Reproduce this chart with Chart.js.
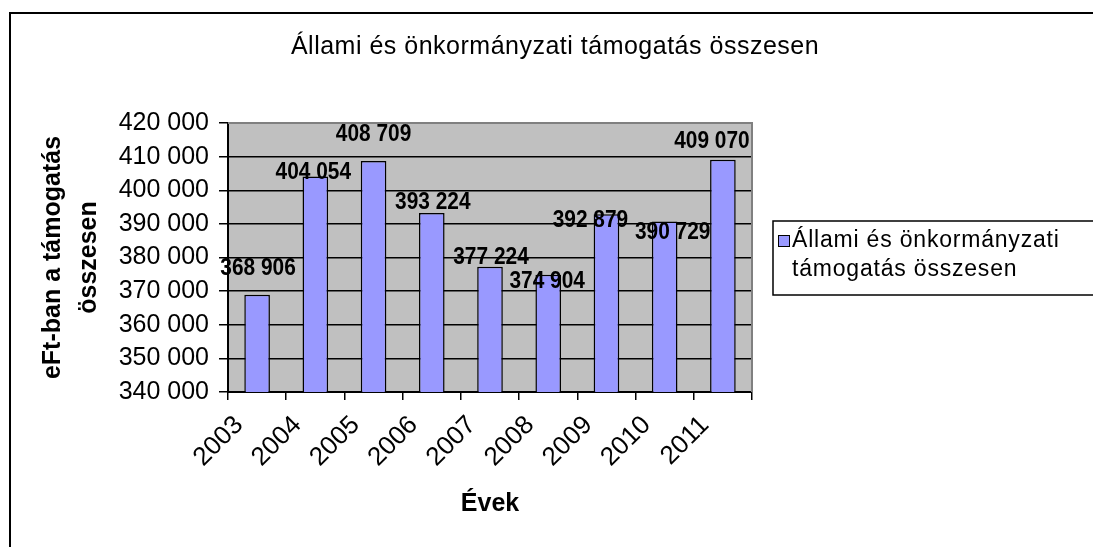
<!DOCTYPE html>
<html>
<head>
<meta charset="utf-8">
<script src="https://cdn.jsdelivr.net/npm/chart.js@4.4.0/dist/chart.umd.min.js"></script>
<style>
  html, body { margin: 0; padding: 0; background: #ffffff; }
  #wrap { width: 1093px; height: 547px; position: relative; }
</style>
</head>
<body>
<div id="wrap"><canvas id="c" width="1093" height="547"></canvas></div>
<script>
// ---- data ----
const chartTitle = 'Állami és önkormányzati támogatás összesen';
const seriesName = 'Állami és önkormányzati támogatás összesen';
const legendLines = ['Állami és önkormányzati', 'támogatás összesen'];
const yAxisTitle = ['eFt-ban a támogatás', 'összesen'];
const xAxisTitle = 'Évek';
const years = ['2003', '2004', '2005', '2006', '2007', '2008', '2009', '2010', '2011'];
const totals = [368906, 404054, 408709, 393224, 377224, 374904, 392879, 390729, 409070];
const yTicks = [340000, 350000, 360000, 370000, 380000, 390000, 400000, 410000, 420000];

// label placement nudges (pixels, relative to top-centre of each bar)
const labelNudgeX = [1, -2, 0, 1, 1, -1, -16, 8, -11];
const labelNudgeY = [-27, -5, -28, -12, -10, 6, 5, 10, -19];

const FONT = "'Liberation Sans', Arial, sans-serif";
const fmt = v => String(Math.round(v)).replace(/\B(?=(\d{3})+(?!\d))/g, ' ');

const decor = {
  id: 'decor',
  beforeDraw(chart) {
    const ctx = chart.ctx, a = chart.chartArea;
    ctx.save();
    ctx.fillStyle = '#ffffff';
    ctx.fillRect(0, 0, chart.width, chart.height);
    ctx.strokeStyle = '#000000';
    ctx.lineWidth = 2;
    ctx.strokeRect(10, 13, 1200, 700);
    ctx.fillStyle = '#C0C0C0';
    ctx.fillRect(a.left, a.top, a.right - a.left, a.bottom - a.top);
    ctx.restore();
  },
  afterDraw(chart) {
    const ctx = chart.ctx, a = chart.chartArea;
    ctx.save();
    ctx.strokeStyle = '#808080';
    ctx.lineWidth = 2;
    ctx.beginPath();
    ctx.moveTo(a.left, a.top);
    ctx.lineTo(a.right, a.top);
    ctx.lineTo(a.right, a.bottom);
    ctx.stroke();
    // title
    ctx.fillStyle = '#000000';
    ctx.font = '25px ' + FONT;
    ctx.letterSpacing = '0.5px';
    ctx.textAlign = 'center';
    ctx.textBaseline = 'alphabetic';
    ctx.fillText(chartTitle, 555, 54);
    // data labels (bold, slightly condensed)
    ctx.letterSpacing = '0px';
    ctx.font = 'bold 24px ' + FONT;
    ctx.textBaseline = 'middle';
    const meta = chart.getDatasetMeta(0);
    meta.data.forEach((el, i) => {
      ctx.save();
      ctx.translate(el.x + labelNudgeX[i], el.y + labelNudgeY[i]);
      ctx.scale(0.87, 1);
      ctx.fillText(fmt(totals[i]), 0, 1);
      ctx.restore();
    });
    // legend
    ctx.fillStyle = '#ffffff';
    ctx.fillRect(773, 221, 400, 74);
    ctx.strokeStyle = '#000000';
    ctx.lineWidth = 1.5;
    ctx.strokeRect(773, 221, 400, 74);
    ctx.fillStyle = '#9999FF';
    ctx.fillRect(778, 235, 11, 11);
    ctx.lineWidth = 1;
    ctx.strokeRect(778.5, 235.5, 11, 11);
    ctx.fillStyle = '#000000';
    ctx.font = '23px ' + FONT;
    ctx.letterSpacing = '0.8px';
    ctx.textAlign = 'left';
    ctx.textBaseline = 'alphabetic';
    ctx.fillText(legendLines[0], 792, 247);
    ctx.fillText(legendLines[1], 792, 276);
    ctx.restore();
  }
};

new Chart(document.getElementById('c'), {
  type: 'bar',
  data: {
    labels: years,
    datasets: [{
      label: seriesName,
      data: totals,
      backgroundColor: '#9999FF',
      borderColor: '#000000',
      borderWidth: 1.5,
      borderSkipped: false,
      categoryPercentage: 1,
      barPercentage: 0.44
    }]
  },
  options: {
    responsive: false,
    animation: false,
    devicePixelRatio: 1,
    layout: { padding: { top: 123, left: 0, right: 341, bottom: 0 } },
    plugins: { legend: { display: false }, title: { display: false }, tooltip: { enabled: false } },
    scales: {
      y: {
        min: 340000, max: 420000,
        afterBuildTicks: s => { s.ticks = yTicks.map(v => ({ value: v })); },
        afterFit: s => { s.width = 228; },
        ticks: {
          color: '#000000',
          font: { family: FONT, size: 25 },
          padding: 10,
          callback: v => fmt(v)
        },
        grid: { color: '#000000', lineWidth: 1.5, tickLength: 9, drawTicks: true },
        border: { display: true, color: '#000000', width: 2 },
        title: {
          display: true,
          text: yAxisTitle,
          color: '#000000',
          font: { family: FONT, size: 25, weight: 'bold', lineHeight: 1.44 },
          padding: { top: 35, bottom: 0 }
        }
      },
      x: {
        afterFit: s => { s.height = 155; },
        ticks: {
          color: '#000000',
          font: { family: FONT, size: 26 },
          minRotation: 45, maxRotation: 45,
          labelOffset: -18,
          padding: 10,
          autoSkip: false
        },
        grid: { color: '#000000', lineWidth: 1.5, tickLength: 8, drawOnChartArea: false, offset: true },
        border: { display: true, color: '#000000', width: 2 },
        title: {
          display: true,
          text: xAxisTitle,
          color: '#000000',
          font: { family: FONT, size: 25, weight: 'bold' },
          padding: { top: 0, bottom: 28 }
        }
      }
    }
  },
  plugins: [decor]
});
</script>
</body>
</html>
